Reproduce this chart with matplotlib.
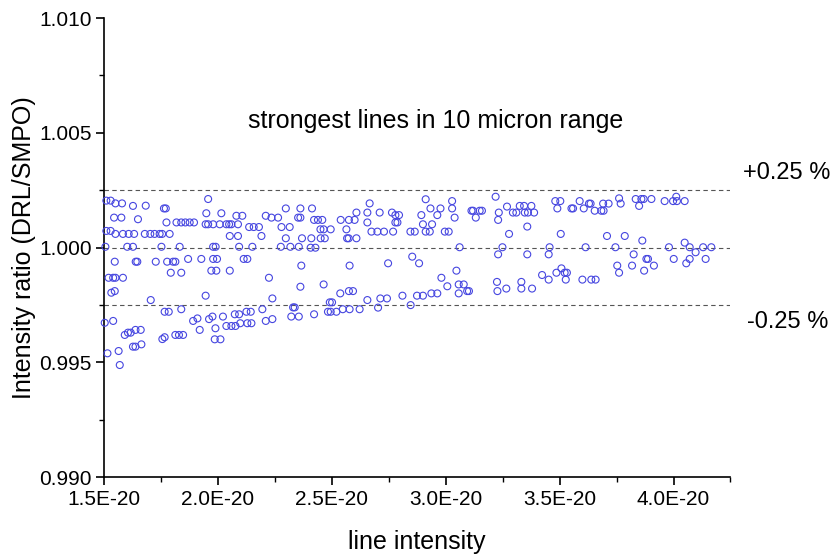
import numpy as np
import matplotlib
matplotlib.use("Agg")
import matplotlib.pyplot as plt
from matplotlib.ticker import MultipleLocator, FuncFormatter

plt.rcParams['font.family'] = ['Liberation Sans', 'DejaVu Sans']

# line intensity (units of 1e-20) and intensity ratio DRL/SMPO
intensity = np.array([
    # 1.5 - 1.93
    1.510, 1.529, 1.550, 1.579, 1.627, 1.683, 1.763, 1.771, 1.544, 1.576,
    1.649, 1.774, 1.818, 1.839, 1.857, 1.876, 1.895, 1.510, 1.529, 1.550,
    1.583, 1.608, 1.632, 1.679, 1.703, 1.722, 1.744, 1.755, 1.788, 1.506,
    1.602, 1.627, 1.752, 1.832, 1.547, 1.639, 1.646, 1.727, 1.777, 1.803,
    1.813, 1.869, 1.927, 1.793, 1.839, 1.520, 1.540, 1.550, 1.583, 1.532,
    1.547, 1.705, 1.766, 1.784, 1.839, 1.503, 1.540, 1.891, 1.910, 1.920,
    1.591, 1.605, 1.617, 1.638, 1.661, 1.756, 1.766, 1.813, 1.829, 1.847,
    1.627, 1.638, 1.664, 1.515, 1.564, 1.569,
    # 1.93 - 2.40
    1.957, 1.949, 2.015, 2.081, 2.107, 2.210, 2.235, 2.264, 2.298, 2.362,
    2.352, 2.362, 1.946, 1.957, 1.979, 2.008, 2.037, 2.049, 2.059, 2.088,
    2.137, 2.157, 2.180, 2.279, 2.315, 2.052, 2.088, 2.191, 2.298, 2.369,
    1.979, 1.990, 2.093, 2.151, 2.276, 2.318, 2.355, 1.979, 1.996, 2.113,
    2.129, 2.366, 1.971, 1.993, 2.052, 2.224, 2.362, 1.946, 2.239, 2.330,
    2.337, 2.195, 2.125, 2.144, 2.074, 2.093, 2.022, 1.976, 1.961, 2.322,
    2.355, 2.239, 2.210, 2.129, 2.147, 2.098, 2.037, 2.059, 2.077, 1.989,
    1.986, 2.011,
    # 2.40 - 2.86
    2.666, 2.413, 2.608, 2.656, 2.710, 2.764, 2.779, 2.795, 2.422, 2.439,
    2.458, 2.539, 2.575, 2.600, 2.656, 2.779, 2.788, 2.450, 2.464, 2.495,
    2.564, 2.674, 2.700, 2.729, 2.769, 2.845, 2.410, 2.451, 2.469, 2.567,
    2.574, 2.608, 2.407, 2.428, 2.853, 2.747, 2.578, 2.464, 2.537, 2.575,
    2.593, 2.810, 2.713, 2.742, 2.656, 2.491, 2.501, 2.846, 2.703, 2.548,
    2.578, 2.622, 2.483, 2.495, 2.520, 2.422,
    # 2.86 - 3.32
    3.219, 2.912, 3.028, 2.933, 2.977, 3.028, 3.269, 2.893, 2.963, 3.113,
    3.120, 3.149, 3.159, 3.233, 3.295, 3.310, 3.039, 3.132, 3.230, 2.900,
    2.940, 2.864, 2.912, 2.930, 2.996, 3.013, 3.278, 3.061, 3.249, 3.230,
    2.883, 3.047, 2.981, 3.225, 3.057, 3.079, 3.007, 3.266, 3.094, 3.102,
    3.227, 2.874, 2.900, 2.937, 2.963, 3.057,
    # 3.32 - 3.78
    3.761, 3.481, 3.503, 3.588, 3.325, 3.344, 3.376, 3.490, 3.552, 3.559,
    3.606, 3.629, 3.636, 3.691, 3.715, 3.768, 3.347, 3.361, 3.388, 3.654,
    3.683, 3.693, 3.358, 3.505, 3.708, 3.456, 3.614, 3.745, 3.358, 3.452,
    3.753, 3.761, 3.423, 3.508, 3.486, 3.522, 3.532, 3.332, 3.452, 3.527,
    3.600, 3.639, 3.658, 3.332, 3.379,
    # 3.78 - 4.2
    3.834, 3.859, 3.869, 3.903, 3.849, 3.961, 4.012, 3.998, 4.015, 4.049,
    3.786, 3.863, 4.049, 3.980, 4.071, 4.097, 4.130, 4.166, 3.825, 3.881,
    3.888, 4.001, 4.071, 4.141, 3.818, 3.914, 4.056, 3.871,
])

ratio = np.array([
    1.00205, 1.00205, 1.00193, 1.00193, 1.00182, 1.00183, 1.00171, 1.00171, 1.00131, 1.00131,
    1.00124, 1.00110, 1.00110, 1.00110, 1.00110, 1.00110, 1.00110, 1.00073, 1.00073, 1.00060,
    1.00060, 1.00060, 1.00060, 1.00060, 1.00060, 1.00060, 1.00060, 1.00060, 1.00060, 1.00004,
    1.00004, 1.00004, 1.00004, 1.00004, 0.99939, 0.99939, 0.99939, 0.99939, 0.99939, 0.99939,
    0.99939, 0.99951, 0.99951, 0.99891, 0.99891, 0.99869, 0.99869, 0.99869, 0.99869, 0.99804,
    0.99811, 0.99772, 0.99721, 0.99721, 0.99732, 0.99673, 0.99681, 0.99681, 0.99692, 0.99642,
    0.99620, 0.99630, 0.99630, 0.99642, 0.99642, 0.99602, 0.99610, 0.99620, 0.99620, 0.99620,
    0.99569, 0.99569, 0.99579, 0.99540, 0.99550, 0.99489,
    1.00212, 1.00150, 1.00150, 1.00139, 1.00139, 1.00139, 1.00131, 1.00131, 1.00171, 1.00171,
    1.00131, 1.00131, 1.00102, 1.00102, 1.00102, 1.00102, 1.00102, 1.00102, 1.00102, 1.00102,
    1.00090, 1.00090, 1.00090, 1.00090, 1.00090, 1.00051, 1.00051, 1.00051, 1.00041, 1.00041,
    1.00004, 1.00004, 1.00004, 1.00004, 1.00004, 1.00004, 1.00004, 0.99951, 0.99951, 0.99951,
    0.99951, 0.99922, 0.99900, 0.99900, 0.99900, 0.99869, 0.99830, 0.99791, 0.99779, 0.99740,
    0.99740, 0.99732, 0.99721, 0.99721, 0.99710, 0.99710, 0.99700, 0.99700, 0.99689, 0.99700,
    0.99700, 0.99689, 0.99681, 0.99671, 0.99671, 0.99671, 0.99659, 0.99659, 0.99659, 0.99649,
    0.99601, 0.99601,
    1.00193, 1.00171, 1.00153, 1.00153, 1.00153, 1.00153, 1.00142, 1.00142, 1.00121, 1.00121,
    1.00121, 1.00121, 1.00121, 1.00121, 1.00110, 1.00110, 1.00110, 1.00080, 1.00080, 1.00080,
    1.00080, 1.00070, 1.00070, 1.00070, 1.00070, 1.00070, 1.00041, 1.00041, 1.00041, 1.00041,
    1.00041, 1.00041, 1.00000, 1.00000, 0.99961, 0.99932, 0.99922, 0.99840, 0.99801, 0.99811,
    0.99811, 0.99791, 0.99779, 0.99779, 0.99772, 0.99762, 0.99762, 0.99750, 0.99739, 0.99732,
    0.99732, 0.99732, 0.99721, 0.99721, 0.99721, 0.99710,
    1.00222, 1.00211, 1.00203, 1.00171, 1.00171, 1.00171, 1.00179, 1.00142, 1.00142, 1.00161,
    1.00161, 1.00161, 1.00161, 1.00153, 1.00153, 1.00153, 1.00131, 1.00131, 1.00121, 1.00102,
    1.00102, 1.00070, 1.00070, 1.00070, 1.00070, 1.00070, 1.00060, 1.00002, 1.00002, 0.99971,
    0.99932, 0.99900, 0.99869, 0.99851, 0.99840, 0.99840, 0.99832, 0.99822, 0.99811, 0.99811,
    0.99811, 0.99791, 0.99791, 0.99801, 0.99801, 0.99801,
    1.00215, 1.00203, 1.00203, 1.00203, 1.00182, 1.00182, 1.00182, 1.00171, 1.00171, 1.00171,
    1.00171, 1.00192, 1.00192, 1.00192, 1.00192, 1.00192, 1.00153, 1.00153, 1.00153, 1.00161,
    1.00161, 1.00161, 1.00092, 1.00060, 1.00051, 1.00002, 1.00002, 1.00002, 0.99971, 0.99971,
    0.99922, 0.99891, 0.99881, 0.99910, 0.99891, 0.99891, 0.99891, 0.99851, 0.99861, 0.99861,
    0.99861, 0.99861, 0.99861, 0.99822, 0.99822,
    1.00212, 1.00212, 1.00212, 1.00212, 1.00182, 1.00203, 1.00222, 1.00203, 1.00203, 1.00203,
    1.00051, 1.00031, 1.00022, 1.00002, 1.00002, 0.99980, 1.00002, 1.00002, 0.99971, 0.99951,
    0.99951, 0.99951, 0.99951, 0.99951, 0.99922, 0.99922, 0.99932, 0.99900,
])

ref_lines = [1.0025, 1.0, 0.9975]
band_labels = ['+0.25 %', '-0.25 %']
x_ticks = [1.5e-20, 2.0e-20, 2.5e-20, 3.0e-20, 3.5e-20, 4.0e-20]
y_ticks = [0.990, 0.995, 1.000, 1.005, 1.010]

fig = plt.figure(figsize=(8.33, 5.55), dpi=100)
ax = fig.add_axes([0.1249, 0.140, 0.752, 0.8274])

for yv in ref_lines:
    ax.axhline(yv, color='#555555', lw=0.8, ls=(0, (4, 3)), zorder=1)

ax.scatter(intensity * 1e-20, ratio, s=25, facecolors='none',
           edgecolors='#4646E0', linewidths=0.8, zorder=3, clip_on=False)

ax.set_xlim(1.5e-20, 4.25e-20)
ax.set_ylim(0.990, 1.010)
ax.set_xticks(x_ticks)
ax.set_yticks(y_ticks)
ax.xaxis.set_minor_locator(MultipleLocator(0.25e-20))
ax.yaxis.set_minor_locator(MultipleLocator(0.0025))
ax.xaxis.set_major_formatter(FuncFormatter(lambda v, p: f"{v * 1e20:.1f}E-20"))
ax.yaxis.set_major_formatter(FuncFormatter(lambda v, p: f"{v:.3f}"))

for s in ['top', 'right']:
    ax.spines[s].set_visible(False)
for s in ['left', 'bottom']:
    ax.spines[s].set_linewidth(1.2)
ax.tick_params(which='major', direction='out', length=6, width=1.2,
               labelsize=15, pad=3)
ax.tick_params(which='minor', direction='out', length=3.5, width=1.0)

ax.set_xlabel('line intensity', fontsize=18, labelpad=15)
ax.set_ylabel('Intensity ratio (DRL/SMPO)', fontsize=18, labelpad=2)

fig.text(0.5234, 0.782, 'strongest lines in 10 micron range', fontsize=18,
         ha='center', va='center')
fig.text(0.944, 0.688, band_labels[0], fontsize=17, ha='center', va='center')
fig.text(0.946, 0.420, band_labels[1], fontsize=17, ha='center', va='center')

fig.savefig('out.png', dpi=100)
